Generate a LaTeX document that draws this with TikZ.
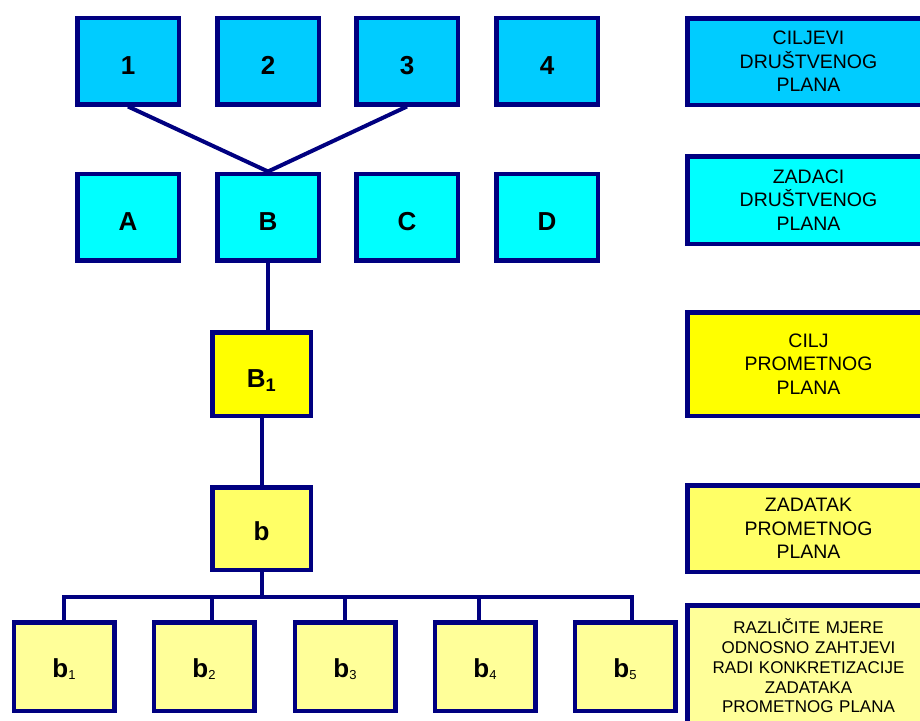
\documentclass[tikz,border=0pt]{standalone}
\usepackage{fontspec}
\setmainfont{Liberation Sans}
\usetikzlibrary{positioning}
\definecolor{navyline}{HTML}{000080}
\definecolor{skyfill}{HTML}{00CCFF}
\definecolor{cyanfill}{HTML}{00FFFF}
\definecolor{goldfill}{HTML}{FFFF00}
\definecolor{lemonfill}{HTML}{FFFF66}
\definecolor{palefill}{HTML}{FFFF99}

\begin{document}
\begin{tikzpicture}[
      x = 1pt, y = -1pt,
      every node/.style = {draw=navyline, line width=4.5pt, inner sep=0pt, align=center},
      letter/.style     = {minimum width=101.5pt, minimum height=86.5pt, text height=27pt, text depth=0pt,
                           font=\fontsize{26}{26}\selectfont\bfseries},
      sublet/.style     = {letter, fill=palefill, minimum width=100.5pt, minimum height=88.5pt, text height=22pt},
      legend/.style     = {minimum width=242.5pt, text width=238pt, font=\fontsize{19.5}{23.5}\selectfont},
      link/.style       = {draw=navyline, line width=4pt}
    ]
    \useasboundingbox (0,0) rectangle (920,720);

    \foreach \i/\x in {1/128, 2/268, 3/407, 4/547}
      \node[letter, fill=skyfill] (n\i) at (\x,61) {\i};
    \foreach \l/\x in {A/128, B/268, C/407, D/547}
      \node[letter, fill=cyanfill] (n\l) at (\x,217) {\l};

    \node[letter, fill=goldfill, minimum width=98.5pt, minimum height=83.5pt] (nB1) at (261.5,374) {B\textsubscript{1}};
    \node[letter, fill=lemonfill, minimum width=98.5pt, minimum height=82.5pt, text height=23pt] (nb) at (261.5,528.5) {b};

    \foreach \i/\x in {1/64, 2/204, 3/345, 4/485, 5/625}
      \node[sublet] (nb\i) at (\x,666.5) {b\raisebox{-1.5pt}{\fontsize{13}{13}\selectfont\mdseries\i}};

    \node[legend, fill=skyfill, minimum height=86.5pt] (goals) at (808.5,61.5) {CILJEVI\\DRUŠTVENOG\\PLANA};
    \node[legend, fill=cyanfill, minimum height=87.5pt] (tasks) at (808.5,200) {ZADACI\\DRUŠTVENOG\\PLANA};
    \node[legend, fill=goldfill, minimum height=103.5pt] (goal) at (808.5,364) {CILJ\\PROMETNOG\\PLANA};
    \node[legend, fill=lemonfill, minimum height=86.5pt] (task) at (808.5,528.5) {ZADATAK\\PROMETNOG\\PLANA};
    \node[legend, fill=palefill, minimum height=121.5pt, font=\fontsize{17}{19.7}\selectfont] (measures) at (808.5,666)
      {RAZLIČITE MJERE\\ODNOSNO ZAHTJEVI\\RADI KONKRETIZACIJE\\ZADATAKA\\PROMETNOG PLANA};

    \draw[link] (n1.south) -- (nB.north);
    \draw[link] (n3.south) -- (nB.north);
    \draw[link] (nB.south) -- (nB.south |- nB1.north);
    \draw[link] (nB1.south) -- (nb.north);

    \coordinate (bus) at (261.5,597);
    \draw[link] (nb.south) -- (bus);
    \draw[link] (nb1.north) |- ([xshift=7pt]nb5.north |- bus) -- ([xshift=7pt]nb5.north);
    \draw[link] ([xshift=8pt]nb2.north) -- ([xshift=8pt]nb2.north |- bus);
    \draw[link] (nb3.north) -- (nb3.north |- bus);
    \draw[link] ([xshift=-6pt]nb4.north) -- ([xshift=-6pt]nb4.north |- bus);
  \end{tikzpicture}
\end{document}
